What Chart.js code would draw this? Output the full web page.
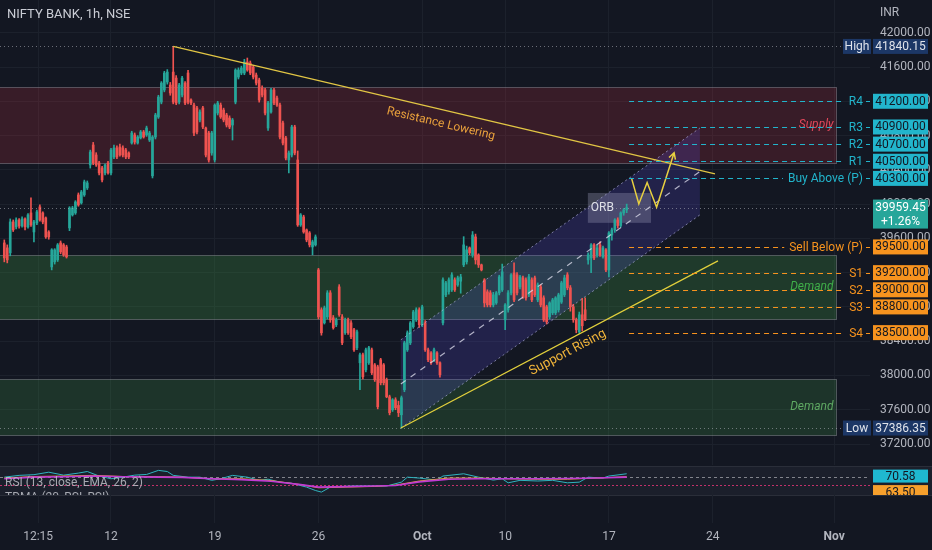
<!DOCTYPE html>
<html>
<head>
<meta charset="utf-8">
<script src="https://cdn.jsdelivr.net/npm/chart.js@4.4.0/dist/chart.umd.min.js"></script>
<style>
html,body{margin:0;padding:0;background:#131722;overflow:hidden}
#wrap{position:relative;width:932px;height:550px}
#main{position:absolute;left:0;top:0}
#osc{position:absolute;left:0;top:465px}
</style>
</head>
<body>
<div id="wrap">
<canvas id="main" width="932" height="465"></canvas>
<canvas id="osc" width="932" height="85"></canvas>
</div>
<script>
//DATA
const titleText="NIFTY BANK, 1h, NSE"
const currency="INR"

// one row per hourly candle: [open, high, low, close]
const candles=[
[39547,39582,39326,39372],[39489,39524,39314,39349],[39431,39827,39396,39792],[39792,39815,39680,39699],
[39734,39840,39710,39815],[39815,39830,39720,39745],[39745,39850,39730,39827],[39827,39840,39700,39734],
[39734,39890,39720,39874],[39897,40072,39740,39757],[39675,39810,39559,39792],[39780,39930,39760,39909],
[39967,39990,39800,39815],[39897,39910,39770,39792],[39839,39850,39600,39617],[39675,39690,39590,39617],
[39267,39480,39232,39466],[39326,39480,39300,39466],[39349,39540,39330,39524],[39547,39570,39420,39442],
[39524,39540,39390,39407],[39500,39520,39370,39384],[39722,39970,39690,39955],[39874,39975,39860,39955],
[39897,40040,39880,40025],[40107,40130,39975,39990],[40014,40160,40000,40142],[40107,40280,40090,40259],
[40189,40270,40170,40247],[40457,40630,40420,40608],[40690,40720,40460,40480],[40573,40600,40440,40457],
[40480,40500,40340,40364],[40422,40440,40260,40282],[40364,40470,40340,40457],[40480,40500,40350,40364],
[40364,40650,40340,40632],[40550,40690,40530,40655],[40655,40680,40530,40550],[40667,40700,40560,40573],
[40655,40680,40550,40573],[40632,40650,40530,40550],[40597,40610,40530,40550],[40713,40850,40700,40830],
[40807,40830,40700,40725],[40713,40800,40700,40783],[40772,40860,40760,40842],[40842,40860,40770,40783],
[40807,40910,40790,40888],[40748,40850,40730,40830],[40330,40800,40305,40783],[40783,41060,40760,41040],
[41017,41270,41000,41250],[41191,41430,41170,41413],[41332,41550,41310,41530],[41425,41570,41400,41541],
[41390,41420,41270,41297],[41541,41840,41170,41191],[41471,41500,41160,41180],[41191,41410,41170,41390],
[41273,41490,41250,41471],[41413,41430,41160,41180],[41530,41560,41170,41191],[41215,41230,41160,41180],
[41156,41180,40800,40830],[41122,41140,40820,40842],[40982,41100,40960,41075],[41122,41140,40880,40900],
[40888,40900,40550,40573],[40830,40850,40490,40515],[40597,40850,40570,40830],[40515,41170,40490,41156],
[41063,41200,41040,41180],[41156,41180,41000,41017],[41098,41120,40960,40982],[41040,41060,40900,40923],
[41005,41030,40880,40900],[40923,41000,40748,40982],[41191,41580,41170,41565],[41483,41590,41460,41565],
[41530,41610,41510,41588],[41530,41690,41510,41658],[41658,41705,41550,41565],[41646,41670,41510,41530],
[41600,41620,41460,41483],[41506,41530,41390,41413],[41448,41470,41190,41215],[41355,41380,41250,41273],
[41332,41350,41040,41063],[40888,41200,40860,41180],[41075,41350,41060,41332],[41332,41350,41160,41180],
[41238,41260,41140,41156],[41156,41180,40760,40783],[40947,40970,40690,40713],[40772,40790,40515,40538],
[40515,40620,40364,40597],[40573,40920,40550,40900],[40900,40920,40575,40597],[40515,40620,39740,39757],
[39757,39890,39740,39874],[39850,39870,39660,39675],[39699,39710,39560,39582],[39664,39680,39500,39524],
[39500,39580,39407,39559],[39524,39640,39510,39617],[39232,39250,38660,38684],[38766,38790,38470,38498],
[38614,38810,38600,38789],[38684,38990,38660,38964],[38964,38990,38620,38649],[38673,38700,38540,38556],
[38591,38670,38570,38649],[39034,39060,38690,38708],[38684,38710,38360,38381],[38498,38670,38480,38649],
[38649,38670,38480,38498],[38614,38640,38430,38451],[38533,38550,38280,38299],[38323,38530,38300,38509],
[38148,38260,37833,38241],[38241,38260,37960,37985],[38066,38320,38040,38299],[38148,38340,38130,38323],
[38299,38320,38010,38031],[38124,38140,37930,37950],[38101,38120,37610,37635],[38183,38200,37890,37915],
[38124,38140,37890,37915],[37950,37970,37740,37751],[37751,37770,37540,37565],[37600,37730,37580,37716],
[37716,37740,37600,37623],[37650,37700,37520,37565],[37541,37760,37386,37740],[37833,38400,37810,38381],
[38299,38520,38280,38498],[38381,38630,38360,38614],[38568,38760,38550,38742],[38649,38790,38630,38766],
[38766,38790,38560,38591],[38591,38820,38570,38801],[38614,38640,38280,38299],[38299,38320,38160,38183],
[38264,38280,38130,38148],[38183,38320,38160,38299],[38264,38280,38130,38148],[38148,38160,37980,38008],
[38614,39140,38590,39116],[38941,39100,38920,39081],[38976,39140,38950,39116],[38999,39200,38980,39174],
[39116,39140,38980,38999],[39057,39160,39040,39139],[39100,39180,38960,39150],[39291,39620,39270,39524],
[39326,39510,39300,39466],[39489,39500,39410,39431],[39407,39680,39380,39640],[39617,39650,39300,39349],
[39407,39420,39260,39291],[39291,39300,39220,39232],[39116,39130,38800,38847],[38976,39000,38800,38824],
[38964,38990,38800,38824],[38824,38970,38800,38941],[38847,38980,38830,38964],[38964,39170,38940,39151],
[38999,39300,38980,39209],[38649,38840,38533,38824],[38766,38990,38740,38964],[38964,39190,38940,39174],
[39197,39314,38860,38882],[39174,39200,38940,38964],[39034,39170,39010,39151],[39139,39160,38900,38917],
[39116,39140,38880,38906],[38941,39180,38920,39151],[39116,39140,38860,38882],[39139,39160,38920,38941],
[38882,39080,38860,39057],[39034,39060,38800,38824],[38906,38930,38630,38649],[38801,38820,38600,38626],
[38684,38860,38660,38847],[38731,38900,38710,38882],[38731,38920,38710,38906],[38766,38960,38740,38941],
[38857,39100,38840,39081],[38941,39170,38920,39139],[39174,39200,39000,39023],[39023,39050,38750,38801],
[38801,38830,38620,38649],[38649,38670,38498,38533],[38509,38740,38490,38708],[38708,38900,38520,38580],
[38766,38906,38640,38649],[39349,39430,39300,39407],[39372,39540,39200,39524],[39524,39540,39350,39372],
[39407,39520,39380,39489],[39524,39560,39390,39407],[39384,39510,39370,39489],[39466,39480,39210,39232],
[39232,39680,39151,39664],[39640,39720,39580,39699],[39699,39830,39670,39815],[39815,39840,39720,39750],
[39750,39910,39730,39897],[39897,39950,39870,39932],[39932,40000,39900,39959]
]

// time axis (bar index of each label)
const tickBars=[11.4,36,71,106,141,169,204,239,280]
const tickLabels=["12:15","12","19","26","Oct","10","17","24","Nov"]
const monthLabels=["Oct","Nov"]
const priceTicks=[37200,37600,38000,38400,38800,39200,39600,40000,40400,40800,41200,41600,42000]

// pivot levels
const levelNames=["R4","R3","R2","R1","Buy Above (P)","Sell Below (P)","S1","S2","S3","S4"]
const levelPrices=[41200,40900,40700,40500,40300,39500,39200,39000,38800,38500]
const levelSide=["r","r","r","r","r","s","s","s","s","s"]
const levelFrom=210.8

// supply / demand zones
const zoneNames=["Supply","Demand","Demand"]
const zoneTops=[41365,39410,37958]
const zoneBottoms=[40480,38658,37308]
const zoneEnd=280.8

// drawings: [bar, price]
const resistLine=[[57,41840],[239.8,40352]]
const supportLine=[[133.8,37386],[240.8,39337]]
const channelUpper=[[133.8,38416],[234.7,40888]]
const channelLower=[[133.8,37386],[234.7,39874]]
const wPath=[[211.7,40294],[214.1,40002],[216.9,40251],[220.1,39964],[226,40600]]
const orbBars=[196.9,218.2]
const orbPrices=[40130,39781]

const highPrice=41840.15
const lowPrice=37386.35
const lastPrice=39959.45
const lastChange="+1.26%"

// oscillator pane
const rsiBars=[0,5,10,15,20,25,28,32,36,40,44,48,52,55,57,62,66,70,73,77,82,86,89,93,97,102,105,107,110,118,129,134,136,140,146,148,155,160,165,168,170,174,180,185,190,194,197,202,204,210]
const rsiVals=[70.1,70.9,71.2,72.3,71.0,71.9,72.6,70.6,69.4,70.1,71.0,71.3,73.1,72.6,70.9,70.1,70.1,68.7,69.4,70.9,70.1,68.7,69.2,67.9,67.4,65.7,64.2,63.5,65.7,66.2,66.2,67.9,70.1,69.7,68.8,70.6,71.6,70.1,68.8,69.4,67.6,68.7,68.4,68.7,67.6,67.9,70.1,69.7,70.6,71.6]
const avgBars=[0,10,20,30,40,52,60,70,80,90,100,106,115,125,132,140,150,160,170,180,190,200,210]
const emaVals=[69.7,70.4,70.6,70.9,70.4,70.3,70.1,69.4,69.4,68.6,66.8,65.4,65.7,66.0,66.6,68.4,69.7,69.7,69.4,69.2,69.2,69.7,70.3]
const tdmaVals=[69.4,70.1,70.3,70.6,70.3,70.1,70.0,69.4,69.0,68.3,66.8,65.7,65.9,66.2,66.4,68.0,69.2,69.4,69.4,69.4,69.5,69.7,70.1]
const rsiLevels=[70,66.5]
const rsiLast=70.58
const emaLast=63.50
const rsiTitle="RSI (13, close, EMA, 26, 2)"
const tdmaTitle="TDMA (20, RSI, RSI)"

//STYLE
const BG="#131722"
const TXT="#b2b5be"
const GRID="#1c212c"
const UP="#26a69a"
const DOWN="#ef5350"
const TEAL="#22b5cc"
const ORANGE="#f7931e"
const FONT="Roboto, 'Noto Sans', sans-serif"
const zoneFills=["rgba(242,54,69,0.17)","rgba(67,160,71,0.26)","rgba(67,160,71,0.22)"]
const zoneText=["#e0475a","#3fae49","#5fa963"]
const BAR_MIN=-1.45, BAR_MAX=292.1

Chart.defaults.font.family=FONT
Chart.defaults.font.size=12
Chart.defaults.color=TXT

//HELPERS
function pt(chart,p){
    return [chart.scales.x.getPixelForValue(p[0]),chart.scales.y.getPixelForValue(p[1])]
}

function seg(ctx,a,b,color,w,dash){
    ctx.save()
    ctx.strokeStyle=color
    ctx.lineWidth=w
    ctx.setLineDash(dash||[])
    ctx.beginPath()
    ctx.moveTo(a[0],a[1])
    ctx.lineTo(b[0],b[1])
    ctx.stroke()
    ctx.restore()
}

function tag(ctx,x,y,w,h,bg,fg,text){
    ctx.fillStyle=bg
    ctx.fillRect(x,y-h/2,w,h)
    ctx.fillStyle=fg
    ctx.textAlign="center"
    ctx.textBaseline="middle"
    ctx.font="12px "+FONT
    ctx.fillText(text,x+w/2,y+0.5)
}

function textOnLine(ctx,a,b,t,text,off){
    const cx=a[0]+(b[0]-a[0])*t
    const cy=a[1]+(b[1]-a[1])*t
    ctx.save()
    ctx.translate(cx,cy)
    ctx.rotate(Math.atan2(b[1]-a[1],b[0]-a[0]))
    ctx.textAlign="center"
    ctx.textBaseline="middle"
    ctx.fillText(text,0,off)
    ctx.restore()
}

function zeroPad(s){
    s.paddingTop=0
    s.paddingBottom=0
    s.paddingLeft=0
    s.paddingRight=0
}

//MAIN PANE
const mainOverlay={
    id:"mainOverlay",
    beforeDraw(chart){
        const ctx=chart.ctx
        ctx.save()
        ctx.fillStyle=BG
        ctx.fillRect(0,0,chart.width,chart.height)
        ctx.restore()
    },
    beforeDatasetsDraw(chart){
        const {ctx,chartArea:a,scales:{x,y}}=chart
        ctx.save()
        ctx.beginPath()
        ctx.rect(a.left,a.top,a.width,a.height)
        ctx.clip()
        // zones
        const zx=x.getPixelForValue(zoneEnd)
        zoneTops.forEach((top,k)=>{
            const y0=Math.round(y.getPixelForValue(top))+0.5
            const y1=Math.round(y.getPixelForValue(zoneBottoms[k]))+0.5
            ctx.fillStyle=zoneFills[k]
            ctx.fillRect(a.left,y0,zx-a.left,y1-y0)
            ctx.strokeStyle="rgba(150,150,160,0.45)"
            ctx.lineWidth=1
            ctx.strokeRect(a.left-2,y0,zx-a.left+2,y1-y0)
        })
        // channel
        const u0=pt(chart,channelUpper[0]),u1=pt(chart,channelUpper[1])
        const l0=pt(chart,channelLower[0]),l1=pt(chart,channelLower[1])
        ctx.fillStyle="rgba(96,82,235,0.2)"
        ctx.beginPath()
        ctx.moveTo(u0[0],u0[1])
        ctx.lineTo(u1[0],u1[1])
        ctx.lineTo(l1[0],l1[1])
        ctx.lineTo(l0[0],l0[1])
        ctx.closePath()
        ctx.fill()
        // ORB box
        const bx0=x.getPixelForValue(orbBars[0]),bx1=x.getPixelForValue(orbBars[1])
        const by0=y.getPixelForValue(orbPrices[0]),by1=y.getPixelForValue(orbPrices[1])
        ctx.fillStyle="rgba(150,150,178,0.35)"
        ctx.fillRect(bx0,by0,bx1-bx0,by1-by0)
        ctx.restore()
    },
    afterDatasetsDraw(chart){
        const {ctx,chartArea:a,scales:{x,y}}=chart
        ctx.save()
        ctx.beginPath()
        ctx.rect(a.left,a.top,a.width,a.height)
        ctx.clip()
        // dotted price lines
        ;[highPrice,lastPrice,lowPrice].forEach(p=>{
            const py=Math.round(y.getPixelForValue(p))+0.5
            seg(ctx,[a.left,py],[a.right,py],"rgba(178,181,190,0.55)",1,[1,3])
        })
        // channel borders
        const u0=pt(chart,channelUpper[0]),u1=pt(chart,channelUpper[1])
        const l0=pt(chart,channelLower[0]),l1=pt(chart,channelLower[1])
        seg(ctx,u0,u1,"rgba(190,190,235,0.6)",1,[2,3])
        seg(ctx,l0,l1,"rgba(190,190,235,0.6)",1,[2,3])
        seg(ctx,[(u0[0]+l0[0])/2,(u0[1]+l0[1])/2],[(u1[0]+l1[0])/2,(u1[1]+l1[1])/2],"rgba(225,225,240,0.75)",1.2,[6,6])
        // trend lines
        const r0=pt(chart,resistLine[0]),r1=pt(chart,resistLine[1])
        const s0=pt(chart,supportLine[0]),s1=pt(chart,supportLine[1])
        seg(ctx,r0,r1,"#e2c644",1.2)
        seg(ctx,s0,s1,"#e2d03c",1.2)
        ctx.font="12px "+FONT
        ctx.fillStyle="#e8a03c"
        textOnLine(ctx,r0,r1,0.5,"Resistance Lowering",14)
        ctx.font="13px "+FONT
        ctx.fillStyle="#f0b43a"
        textOnLine(ctx,s0,s1,0.51,"Support Rising",11)
        // W projection with arrow
        const w=wPath.map(p=>pt(chart,p))
        ctx.save()
        ctx.strokeStyle="#e8d040"
        ctx.lineWidth=1.5
        ctx.beginPath()
        w.forEach((p,i)=>i?ctx.lineTo(p[0],p[1]):ctx.moveTo(p[0],p[1]))
        const e=w[w.length-1],f=w[w.length-2]
        const ang=Math.atan2(e[1]-f[1],e[0]-f[0])
        ctx.moveTo(e[0]-7*Math.cos(ang-0.5),e[1]-7*Math.sin(ang-0.5))
        ctx.lineTo(e[0],e[1])
        ctx.lineTo(e[0]-7*Math.cos(ang+0.5),e[1]-7*Math.sin(ang+0.5))
        ctx.stroke()
        ctx.restore()
        // ORB label
        ctx.font="12px "+FONT
        ctx.fillStyle="#dfe1e8"
        ctx.textAlign="left"
        ctx.textBaseline="middle"
        ctx.fillText("ORB",x.getPixelForValue(orbBars[0])+3,(y.getPixelForValue(orbPrices[0])+y.getPixelForValue(orbPrices[1]))/2)
        // zone labels
        ctx.font="italic 12px "+FONT
        ctx.textAlign="right"
        zoneNames.forEach((n,k)=>{
            ctx.fillStyle=zoneText[k]
            ctx.fillText(n,x.getPixelForValue(zoneEnd)-3,(y.getPixelForValue(zoneTops[k])+y.getPixelForValue(zoneBottoms[k]))/2)
        })
        // pivot levels
        ctx.font="12px "+FONT
        const lx=x.getPixelForValue(levelFrom)
        levelNames.forEach((n,k)=>{
            const col=levelSide[k]=="r"?TEAL:ORANGE
            const py=Math.round(y.getPixelForValue(levelPrices[k]))+0.5
            const tw=ctx.measureText(n).width
            const tr=a.right-7
            seg(ctx,[lx,py],[tr-tw-5,py],col,1,[5,4])
            seg(ctx,[tr+3,py],[a.right,py],col,1)
            ctx.fillStyle=col
            ctx.textAlign="right"
            ctx.fillText(n,tr,py)
        })
        ctx.restore()
    },
    afterDraw(chart){
        const {ctx,chartArea:a,scales:{y}}=chart
        const ax=a.right+3,aw=55
        ctx.save()
        levelNames.forEach((n,k)=>{
            const col=levelSide[k]=="r"?TEAL:ORANGE
            tag(ctx,ax,y.getPixelForValue(levelPrices[k]),aw,15,col,"#131722",levelPrices[k].toFixed(2))
        })
        const hy=y.getPixelForValue(highPrice),ly=y.getPixelForValue(lowPrice)
        tag(ctx,a.right-27,hy,28,15,"#1c3766","#dfe3ea","High")
        tag(ctx,ax,hy,aw,15,"#1c3766","#dfe3ea",highPrice.toFixed(2))
        tag(ctx,a.right-27,ly,28,15,"#1c3766","#dfe3ea","Low")
        tag(ctx,ax,ly,aw,15,"#1c3766","#dfe3ea",lowPrice.toFixed(2))
        const cy=y.getPixelForValue(lastPrice)
        ctx.fillStyle=UP
        ctx.fillRect(ax,cy-8,aw,29)
        ctx.fillStyle="#ffffff"
        ctx.textAlign="center"
        ctx.textBaseline="middle"
        ctx.fillText(lastPrice.toFixed(2),ax+aw/2,cy+0.5)
        ctx.fillText(lastChange,ax+aw/2,cy+14)
        // title and currency
        ctx.textAlign="left"
        ctx.fillStyle="#c9ccd4"
        ctx.font="13px "+FONT
        ctx.fillText(titleText,7,15)
        ctx.fillStyle=TXT
        ctx.font="12px "+FONT
        ctx.fillText(currency,880,13)
        ctx.restore()
    }
}

const bodyData=candles.map((c,i)=>({x:i,y:[c[0],c[3]]}))
const wickData=candles.map((c,i)=>({x:i,y:[c[2],c[1]]}))
const candleColor=ctx=>{
    const c=candles[ctx.dataIndex]
    return c[3]>=c[0]?UP:DOWN
}

new Chart(document.querySelector("#main"),{
    type:"bar",
    data:{
        datasets:[
            {data:wickData,backgroundColor:candleColor,barThickness:1,minBarLength:1,grouped:false,order:2},
            {data:bodyData,backgroundColor:candleColor,barThickness:2,minBarLength:1,grouped:false,order:1}
        ]
    },
    options:{
        responsive:false,
        animation:false,
        events:[],
        layout:{padding:0},
        plugins:{legend:{display:false},tooltip:{enabled:false}},
        scales:{
            x:{
                type:"linear",
                min:BAR_MIN,
                max:BAR_MAX,
                offset:false,
                grid:{color:GRID,drawTicks:false,offset:false},
                border:{display:false},
                ticks:{display:false},
                afterBuildTicks:s=>{s.ticks=tickBars.map(v=>({value:v}))},
                afterFit:s=>{s.height=0;zeroPad(s)}
            },
            y:{
                position:"right",
                min:36955,
                max:42382,
                grid:{color:GRID,drawTicks:false},
                border:{display:false},
                ticks:{padding:10,color:TXT,font:{size:12},callback:v=>v.toFixed(2)},
                afterBuildTicks:s=>{s.ticks=priceTicks.map(v=>({value:v}))},
                afterFit:s=>{s.width=62;zeroPad(s)}
            }
        }
    },
    plugins:[mainOverlay]
})

//OSCILLATOR PANE
const PANE_TOP=2, PANE_BOTTOM=30

const oscOverlay={
    id:"oscOverlay",
    beforeDraw(chart){
        const ctx=chart.ctx
        ctx.save()
        ctx.fillStyle=BG
        ctx.fillRect(0,0,chart.width,chart.height)
        ctx.fillStyle="#1b1f2b"
        ctx.fillRect(0,PANE_TOP,chart.width,PANE_BOTTOM-PANE_TOP)
        ctx.fillStyle="#2a2e39"
        ctx.fillRect(0,PANE_TOP-1,chart.width,1)
        ctx.fillRect(0,PANE_BOTTOM,chart.width,1)
        ctx.restore()
    },
    beforeDatasetsDraw(chart){
        const {ctx,chartArea:a,scales:{osc}}=chart
        const cols=["rgba(200,200,205,0.6)","#c2306a"]
        const dashes=[[3,3],[2,2]]
        rsiLevels.forEach((v,k)=>{
            const py=Math.round(osc.getPixelForValue(v))+0.5
            seg(ctx,[a.left,py],[a.right,py],cols[k],1,dashes[k])
        })
    },
    afterDraw(chart){
        const {ctx,chartArea:a,scales:{osc}}=chart
        ctx.save()
        ctx.font="12px "+FONT
        ctx.textAlign="left"
        ctx.textBaseline="middle"
        ctx.fillStyle="rgba(190,193,200,0.85)"
        ctx.fillText(rsiTitle,5,osc.getPixelForValue(67.3))
        ctx.beginPath()
        ctx.rect(0,PANE_TOP,chart.width,PANE_BOTTOM-PANE_TOP)
        ctx.clip()
        ctx.fillText(tdmaTitle,5,osc.getPixelForValue(60.8))
        tag(ctx,a.right+3,osc.getPixelForValue(rsiLast),55,13,"#1fb8d0","#131722",rsiLast.toFixed(2))
        tag(ctx,a.right+3,osc.getPixelForValue(emaLast),55,14,"#f7a02c","#131722",emaLast.toFixed(2))
        ctx.restore()
    }
}

new Chart(document.querySelector("#osc"),{
    type:"line",
    data:{
        datasets:[
            {data:avgBars.map((b,i)=>({x:b,y:tdmaVals[i]})),borderColor:"#c13ad4",borderWidth:1.6,pointRadius:0,yAxisID:"osc"},
            {data:avgBars.map((b,i)=>({x:b,y:emaVals[i]})),borderColor:"#e9a23b",borderWidth:1,pointRadius:0,yAxisID:"osc"},
            {data:rsiBars.map((b,i)=>({x:b,y:rsiVals[i]})),borderColor:"#2fb4bf",borderWidth:1,pointRadius:0,yAxisID:"osc"}
        ]
    },
    options:{
        responsive:false,
        animation:false,
        events:[],
        layout:{padding:{top:PANE_TOP,left:0,right:0,bottom:0}},
        plugins:{legend:{display:false},tooltip:{enabled:false}},
        scales:{
            x:{
                type:"linear",
                min:BAR_MIN,
                max:BAR_MAX,
                grid:{color:GRID,drawTicks:false},
                border:{display:false},
                ticks:{
                    padding:7,
                    color:TXT,
                    maxRotation:0,
                    autoSkip:false,
                    callback:(v,i)=>tickLabels[i],
                    font:c=>({size:12,weight:monthLabels.includes(tickLabels[c.index])?"bold":"normal"})
                },
                afterBuildTicks:s=>{s.ticks=tickBars.map(v=>({value:v}))},
                afterFit:s=>{s.height=27;zeroPad(s)}
            },
            osc:{
                axis:"y",
                type:"linear",
                position:"right",
                min:49.82,
                max:74.6,
                grid:{display:false},
                border:{display:false},
                ticks:{display:false},
                afterFit:s=>{s.width=62;zeroPad(s)}
            }
        }
    },
    plugins:[oscOverlay]
})
</script>
</body>
</html>
